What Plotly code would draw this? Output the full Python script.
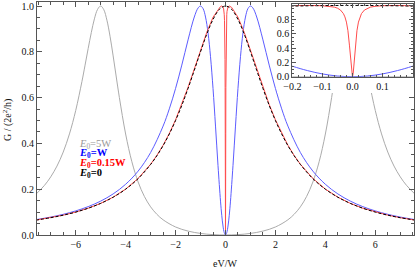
import plotly.graph_objects as go

# ---- data (half-axis, curves are symmetric in eV/W) ----
x_black = [0, 0.25, 0.5, 0.75, 1, 1.25, 1.5, 1.75, 2, 2.25, 2.5, 2.75, 3, 3.5, 4, 4.5, 5, 5.5, 6, 6.5, 7, 7.6]
g_black = [1.0, 0.985, 0.941, 0.877, 0.8, 0.719, 0.64, 0.566, 0.5, 0.441, 0.390, 0.346, 0.308, 0.246, 0.2, 0.165,
           0.138, 0.117, 0.1, 0.0865, 0.0755, 0.0648]

x_red = [0, 0.0025, 0.005, 0.0075, 0.01, 0.015, 0.02, 0.025, 0.03, 0.04, 0.05, 0.06, 0.075, 0.1, 0.15, 0.2, 0.25,
         0.5, 0.75, 1, 1.25, 1.5, 1.75, 2, 2.25, 2.5, 2.75, 3, 3.5, 4, 4.5, 5, 5.5, 6, 6.5, 7, 7.6]
g_red = [0.0, 0.047, 0.165, 0.309, 0.443, 0.645, 0.766, 0.839, 0.885, 0.936, 0.962, 0.976, 0.9875, 0.996, 1.0, 0.998,
         0.9936, 0.951, 0.885, 0.807, 0.725, 0.645, 0.570, 0.503, 0.4436, 0.392, 0.3473, 0.309, 0.247, 0.2004,
         0.1652, 0.1381, 0.1169, 0.1001, 0.0866, 0.0755, 0.0649]

x_blue = [0, 0.05, 0.1, 0.15, 0.2, 0.3, 0.4, 0.5, 0.6, 0.7, 0.8, 0.9, 1, 1.1, 1.25, 1.5, 1.75, 2, 2.25, 2.5, 3,
          3.5, 4, 4.5, 5, 5.5, 6, 6.5, 7, 7.6]
g_blue = [0.0, 0.00995, 0.0392, 0.0861, 0.148, 0.303, 0.4756, 0.64, 0.7785, 0.8829, 0.9518, 0.989, 1.0, 0.991,
          0.952, 0.852, 0.742, 0.64, 0.551, 0.4756, 0.36, 0.279, 0.2215, 0.1794, 0.148, 0.1239, 0.1052, 0.0903,
          0.0784, 0.0669]

x_gray = [0, 0.5, 1, 1.5, 2, 2.5, 2.75, 3, 3.25, 3.5, 3.75, 4, 4.25, 4.375, 4.5, 4.625, 4.75, 4.875, 5, 5.125,
          5.25, 5.375, 5.5, 5.625, 5.75, 6, 6.25, 6.5, 6.75, 7, 7.25, 7.6]
g_gray = [0.0, 0.0016, 0.0069, 0.0171, 0.035, 0.0664, 0.0905, 0.123, 0.1685, 0.2316, 0.320, 0.441, 0.600, 0.690,
          0.782, 0.868, 0.938, 0.984, 1.0, 0.985, 0.944, 0.884, 0.8145, 0.7416, 0.6705, 0.5434, 0.4414, 0.3622,
          0.301, 0.2539, 0.2168, 0.1772]

labels = ["<i>E</i><sub>0</sub>=5W", "<b><i>E</i><sub>0</sub>=W</b>", "<b><i>E</i><sub>0</sub>=0.15W</b>",
          "<b><i>E</i><sub>0</sub>=0</b>"]


def mirror(xs, ys):
    fx = [-v for v in reversed(xs[1:])] + list(xs)
    fy = list(reversed(ys[1:])) + list(ys)
    return fx, fy


FONT = "Liberation Serif"
C_GRAY = "#ababab"
C_BLUE = "#5c5cff"
C_RED = "#ff4c4c"
C_BLACK = "#000000"

series = [
    (x_gray, g_gray, C_GRAY, "spline", None),
    (x_blue, g_blue, C_BLUE, "spline", None),
    (x_red, g_red, C_RED, "linear", None),
    (x_black, g_black, C_BLACK, "spline", "3px,2px"),
]

fig = go.Figure()
for xs, ys, col, shp, dash in series:
    fx, fy = mirror(xs, ys)
    for xa, ya in (("x", "y"), ("x3", "y3")):
        fig.add_trace(go.Scatter(
            x=fx, y=fy, mode="lines", xaxis=xa, yaxis=ya,
            line=dict(color=col, width=1, shape=shp, dash=dash),
            showlegend=False, hoverinfo="skip"))

# empty trace to create the white cover subplot behind the inset
fig.add_trace(go.Scatter(x=[], y=[], xaxis="x2", yaxis="y2", showlegend=False, hoverinfo="skip"))

W, H = 415, 269
L, R, T, B = 37, 1, 2, 34
pw, ph = W - L - R, H - T - B


def px_x(p):
    return (p - L) / pw


def px_y(p):
    return (H - B - p) / ph


axis_common = dict(
    showline=True, linecolor="#555555", linewidth=1, mirror="ticks",
    ticks="inside", tickcolor="#555555", showgrid=False, zeroline=False,
    tickfont=dict(family=FONT, size=10, color="#111111"),
)

fig.update_layout(
    width=W, height=H,
    margin=dict(l=L, r=R, t=T, b=B),
    paper_bgcolor="white", plot_bgcolor="white",
    xaxis=dict(domain=[0, 1], range=[-7.55, 7.55], tickmode="linear", tick0=0, dtick=2, ticklen=5,
               minor=dict(dtick=0.5, tick0=0, ticklen=3, ticks="inside", tickcolor="#555555"),
               anchor="y", **axis_common),
    yaxis=dict(domain=[0, 1], range=[0, 1.0175], tickmode="linear", tick0=0, dtick=0.2, tickformat=".1f",
               ticklen=5, minor=dict(dtick=0.05, tick0=0, ticklen=3, ticks="inside", tickcolor="#555555"),
               anchor="x", **axis_common),
    xaxis2=dict(domain=[px_x(277), 1], range=[0, 1], visible=True, showline=False, showticklabels=False,
                ticks="", showgrid=False, zeroline=False, anchor="y2"),
    yaxis2=dict(domain=[px_y(93), 1], range=[0, 1], visible=True, showline=False, showticklabels=False,
                ticks="", showgrid=False, zeroline=False, anchor="x2"),
    xaxis3=dict(domain=[px_x(292.3), px_x(412.7)], range=[-0.2, 0.2004], tickmode="linear", tick0=0, dtick=0.1,
                tickformat=".1f", ticklen=4,
                minor=dict(dtick=0.02, tick0=0, ticklen=2, ticks="inside", tickcolor="#555555"),
                anchor="y3", **axis_common),
    yaxis3=dict(domain=[px_y(76.7), px_y(4)], range=[0, 1.02], tickmode="linear", tick0=0, dtick=0.2,
                tickformat=".1f", ticklen=4,
                minor=dict(dtick=0.05, tick0=0, ticklen=2, ticks="inside", tickcolor="#555555"),
                anchor="x3", **axis_common),
)

# legend text
leg_colors = ["#999999", "#0000ff", "#ff0000", "#000000"]
leg_rows = [144.0, 153.8, 163.6, 173.3]
for txt, col, ry in zip(labels, leg_colors, leg_rows):
    fig.add_annotation(x=px_x(77), y=px_y(ry), xref="paper", yref="paper", text=txt, showarrow=False,
                       xanchor="left", yanchor="middle", font=dict(family=FONT, size=10.5, color=col))

# axis titles
fig.add_annotation(x=px_x(7), y=px_y(120), xref="paper", yref="paper", text="G / (2e<sup>2</sup>/h)",
                   textangle=-90, showarrow=False, xanchor="center", yanchor="middle",
                   font=dict(family=FONT, size=10, color="#111111"))
fig.add_annotation(x=px_x(225), y=px_y(263), xref="paper", yref="paper", text="eV/W",
                   showarrow=False, xanchor="center", yanchor="middle",
                   font=dict(family=FONT, size=10, color="#111111"))

fig.write_html("out.html", config={"displayModeBar": False},
               post_script="document.body.style.margin='0';document.body.style.overflow='hidden';")
